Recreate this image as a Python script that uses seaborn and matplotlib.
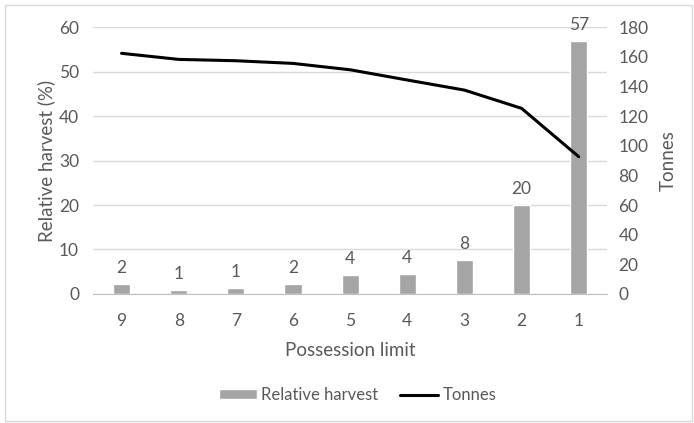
import matplotlib
matplotlib.use('Agg')
import matplotlib.pyplot as plt
import numpy as np
import pandas as pd
import seaborn as sns

# values
limits = ['9', '8', '7', '6', '5', '4', '3', '2', '1']
relative_harvest = [2.3, 0.8, 1.35, 2.3, 4.3, 4.4, 7.6, 20.1, 56.9]
harvest_labels = ['2', '1', '1', '2', '4', '4', '8', '20', '57']
tonnes = [162.3, 158.2, 157.3, 155.5, 151.2, 144.3, 137.5, 125.2, 92.6]

df = pd.DataFrame({'limit': limits, 'harvest': relative_harvest, 'tonnes': tonnes})

sns.set_style('white')
plt.rcParams['font.family'] = ['Lato', 'DejaVu Sans']
txt = '#595959'

fig = plt.figure(figsize=(6.94, 4.23), dpi=100)
ax = fig.add_axes([0.134, 0.305, 0.741, 0.631])
fig.patches.append(plt.Rectangle((0.007, 0.005), 0.99, 0.983, transform=fig.transFigure,
                                 fill=False, edgecolor='#d9d9d9', linewidth=1))

sns.barplot(data=df, x='limit', y='harvest', order=limits, color='#a5a5a5',
            saturation=1, width=0.3, ax=ax, label='Relative harvest')
for i, (v, s) in enumerate(zip(relative_harvest, harvest_labels)):
    ax.text(i, v + 1.8, s, ha='center', va='bottom', fontsize=12.5, color=txt)

ax.set_ylim(0, 60)
ax.set_yticks(range(0, 61, 10))
ax.set_xlim(-0.5, 8.5)
ax.yaxis.grid(True, color='#d9d9d9', linewidth=1)
ax.set_axisbelow(True)
for sp in ['top', 'right', 'left']:
    ax.spines[sp].set_visible(False)
ax.spines['bottom'].set_color('#bfbfbf')
ax.set_xticks(np.arange(-0.5, 9, 1), minor=True)
ax.tick_params(axis='x', which='minor', length=5, color='#bfbfbf', direction='out')
ax.tick_params(axis='x', which='major', length=0, pad=14)
ax.tick_params(axis='y', length=0, pad=10)
ax.tick_params(labelsize=12.5, labelcolor=txt)
ax.set_xlabel('Possession limit', fontsize=13.5, color=txt, labelpad=9)
ax.set_ylabel('Relative harvest (%)', fontsize=13.5, color=txt, labelpad=3)

ax2 = ax.twinx()
sns.pointplot(data=df, x='limit', y='tonnes', order=limits, color='black',
              marker='', linewidth=2.2, ax=ax2, label='Tonnes')
ax2.set_ylim(0, 180)
ax2.set_yticks(range(0, 181, 20))
ax2.set_xlim(-0.5, 8.5)
for sp in ax2.spines.values():
    sp.set_visible(False)
ax2.tick_params(axis='y', length=0, pad=8, labelsize=12.5, labelcolor=txt)
ax2.set_ylabel('Tonnes', fontsize=13.5, color=txt, labelpad=8)
ax2.grid(False)

h1, l1 = ax.get_legend_handles_labels()
h2, l2 = ax2.get_legend_handles_labels()
if ax.get_legend():
    ax.get_legend().remove()
if ax2.get_legend():
    ax2.get_legend().remove()
leg = fig.legend(h1 + h2, l1 + l2, loc='center', bbox_to_anchor=(0.515, 0.066), ncol=2,
                 frameon=False, fontsize=12, handlelength=2.3, handleheight=0.5,
                 handletextpad=0.25, columnspacing=1.3)
for t in leg.get_texts():
    t.set_color(txt)

fig.savefig('out.png', dpi=100)
